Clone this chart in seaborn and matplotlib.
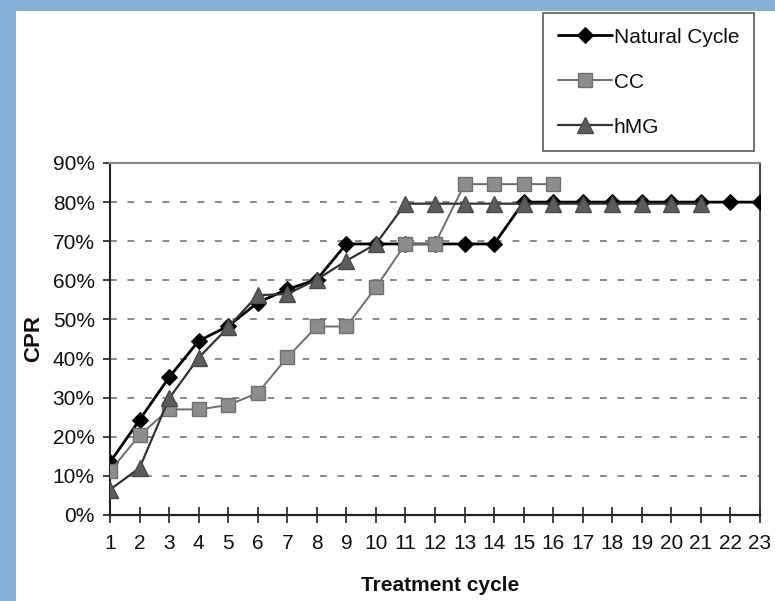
import numpy as np
import pandas as pd
import matplotlib
matplotlib.use("Agg")
import matplotlib.pyplot as plt
import matplotlib.patches as mpatches
from matplotlib.ticker import PercentFormatter
import seaborn as sns

# ---- data ----
cycles = list(range(1, 24))
natural_cycle = [13.5, 24.3, 35.2, 44.5, 48.3, 54.3, 57.7, 60.2, 69.3, 69.3, 69.3, 69.3,
                 69.3, 69.3, 80.0, 80.0, 80.0, 80.0, 80.0, 80.0, 80.0, 80.0, 80.0]
cc = [11.2, 20.4, 27.0, 27.0, 28.1, 31.2, 40.3, 48.2, 48.2, 58.2, 69.3, 69.3,
      84.6, 84.6, 84.6, 84.6]
hmg = [6.5, 12.0, 29.8, 40.2, 48.0, 56.2, 56.5, 60.2, 65.0, 69.3, 79.6, 79.6,
       79.6, 79.6, 79.6, 79.6, 79.6, 79.6, 79.6, 79.6, 79.6]
series_names = ["Natural Cycle", "CC", "hMG"]
y_ticks = [0, 10, 20, 30, 40, 50, 60, 70, 80, 90]

df_nc = pd.DataFrame({"cycle": cycles[:len(natural_cycle)], "cpr": natural_cycle})
df_cc = pd.DataFrame({"cycle": cycles[:len(cc)], "cpr": cc})
df_hmg = pd.DataFrame({"cycle": cycles[:len(hmg)], "cpr": hmg})

sns.set_theme(style="white")
plt.rcParams["font.family"] = ["Liberation Sans", "DejaVu Sans"]

W, H = 775, 601
fig = plt.figure(figsize=(W / 100, H / 100), dpi=100)
fig.patch.set_facecolor("#88b1d9")
# white panel
fig.add_artist(mpatches.Rectangle((16 / W, 0), 1 - 16 / W, 1 - 11 / H,
                                  transform=fig.transFigure, facecolor="white",
                                  edgecolor="none", zorder=0))

ax = fig.add_axes([110 / W, (H - 515) / H, 650 / W, 352 / H])
ax.set_facecolor("white")

sns.lineplot(data=df_nc, x="cycle", y="cpr", ax=ax, color="black", lw=2.0,
             marker="D", markersize=8.5, markerfacecolor="black",
             markeredgecolor="black", label=series_names[0], zorder=3)
sns.lineplot(data=df_cc, x="cycle", y="cpr", ax=ax, color="#6e6e6e", lw=1.4,
             marker="s", markersize=10, markerfacecolor="#8d8d8d",
             markeredgecolor="#707070", markeredgewidth=1.0,
             label=series_names[1], zorder=4)
sns.lineplot(data=df_hmg, x="cycle", y="cpr", ax=ax, color="#333333", lw=1.6,
             marker="^", markersize=11, markerfacecolor="#5c5c5c",
             markeredgecolor="#4a4a4a", markeredgewidth=1.0,
             label=series_names[2], zorder=5)

ax.set_xlim(1, 23)
ax.set_ylim(0, 90)
ax.set_xticks(cycles)
ax.set_xticklabels([str(c) for c in cycles])
ax.set_yticks(y_ticks)
ax.yaxis.set_major_formatter(PercentFormatter(decimals=0))

for y in y_ticks[1:-1]:
    ax.axhline(y, color="#8a8a8a", lw=1.4, ls=(0, (3.5, 5.5)), zorder=1)

for side, col, lw in [("left", "#222222", 1.5), ("bottom", "#222222", 1.6),
                      ("top", "#8a8a8a", 1.6), ("right", "#333333", 1.3)]:
    ax.spines[side].set_visible(True)
    ax.spines[side].set_color(col)
    ax.spines[side].set_linewidth(lw)

ax.tick_params(axis="x", direction="inout", length=11, width=1.2, color="#222222",
               labelsize=15, pad=8, labelcolor="#111111", bottom=True)
ax.tick_params(axis="y", direction="out", length=5, width=1.2, color="#222222",
               labelsize=15, pad=6, labelcolor="#111111", left=True)

ax.set_xlabel("Treatment cycle", fontsize=15, fontweight="bold", color="#111111",
              va="center")
ax.xaxis.set_label_coords(0.508, -0.199)
ax.set_ylabel("CPR", fontsize=16, fontweight="bold", color="#111111", va="center")
ax.yaxis.set_label_coords(-0.118, 0.5)

handles, labels = ax.get_legend_handles_labels()
ax.get_legend().remove()
leg = fig.legend(handles, labels, loc="upper left",
                 bbox_to_anchor=(543 / W, 1 - 13 / H), bbox_transform=fig.transFigure,
                 borderaxespad=0, frameon=True, fancybox=False, fontsize=15,
                 handlelength=2.6, handletextpad=0.1, labelspacing=1.25,
                 borderpad=0.7)
leg.get_frame().set_edgecolor("#333333")
leg.get_frame().set_linewidth(1.2)
for t in leg.get_texts():
    t.set_color("#111111")

fig.savefig("out.png", dpi=100, facecolor=fig.get_facecolor())
